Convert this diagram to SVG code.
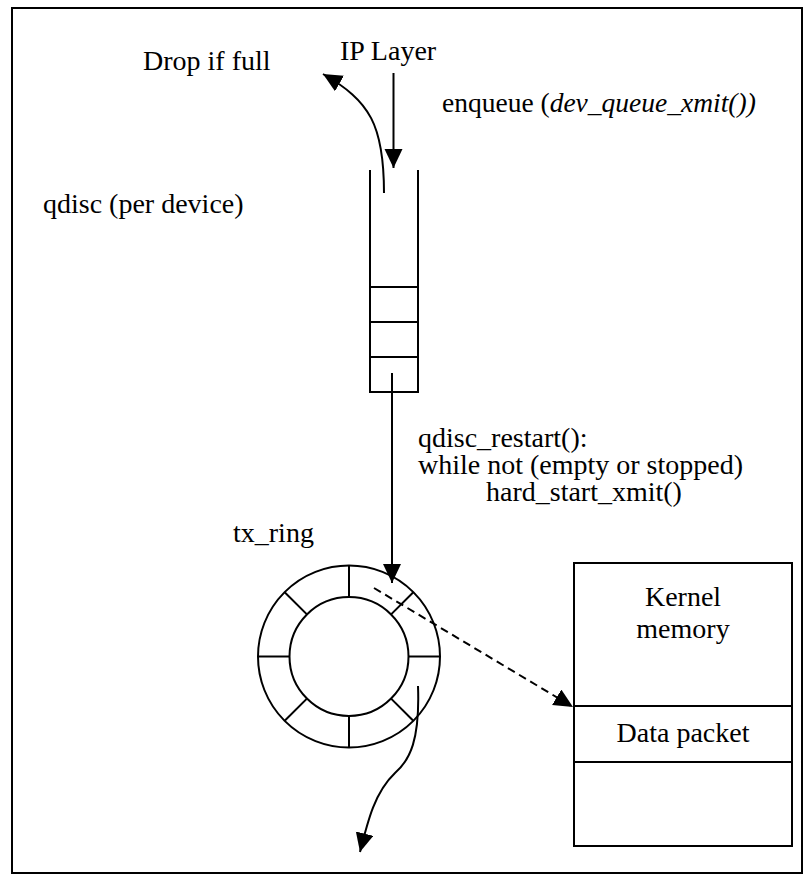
<svg xmlns="http://www.w3.org/2000/svg" width="804" height="875" viewBox="0 0 804 875">
<style>
  text { font-family: "Liberation Serif", "Times New Roman", serif; font-size: 28px; fill: #000; }
  .it { font-style: italic; }
  .ln { fill: none; stroke: #000; stroke-width: 2; }
  .box { fill: #fff; stroke: #000; stroke-width: 2; }
  .dash { fill: none; stroke: #000; stroke-width: 2; stroke-dasharray: 8 5; }
</style>
<defs>
  <marker id="ah" markerUnits="userSpaceOnUse" markerWidth="20" markerHeight="20" refX="19" refY="9" orient="auto" viewBox="0 0 20 20">
    <path d="M0,0 L19,9 L0,18 z" fill="#000"/>
  </marker>
</defs>
<rect width="804" height="875" fill="#fff"/>
<rect id="frame" x="12" y="8" width="790" height="865" class="ln"/>

<g id="labels">
  <text x="143" y="70">Drop if full</text>
  <text x="340" y="60">IP Layer</text>
  <text x="442" y="112" style="font-size:27.5px">enqueue (<tspan class="it">dev_queue_xmit())</tspan></text>
  <text x="43" y="213">qdisc (per device)</text>
  <text x="418" y="447">qdisc_restart():<tspan x="418" y="474">while not (empty or stopped)</tspan><tspan x="486" y="501">hard_start_xmit()</tspan></text>
  <text x="233" y="542">tx_ring</text>
</g>

<g id="qdisc">
  <path class="ln" d="M370,170 V392 H418 V170"/>
  <line class="ln" x1="370" y1="287" x2="418" y2="287"/>
  <line class="ln" x1="370" y1="322" x2="418" y2="322"/>
  <line class="ln" x1="370" y1="357" x2="418" y2="357"/>
</g>

<g id="tx_ring">
  <circle class="ln" cx="349" cy="656.5" r="91"/>
  <circle class="ln" cx="349" cy="656.5" r="59.5"/>
  <line class="ln" x1="349" y1="565.5" x2="349" y2="597"/>
  <line class="ln" x1="349" y1="716" x2="349" y2="747.5"/>
  <line class="ln" x1="258" y1="656.5" x2="289.5" y2="656.5"/>
  <line class="ln" x1="408.5" y1="656.5" x2="440" y2="656.5"/>
  <line class="ln" x1="284.7" y1="592.2" x2="306.9" y2="614.4"/>
  <line class="ln" x1="413.3" y1="592.2" x2="391.1" y2="614.4"/>
  <line class="ln" x1="284.7" y1="720.8" x2="306.9" y2="698.6"/>
  <line class="ln" x1="413.3" y1="720.8" x2="391.1" y2="698.6"/>
</g>

<g id="kernel_memory">
  <rect class="box" x="574" y="563" width="218" height="283"/>
  <line class="ln" x1="574" y1="706" x2="792" y2="706"/>
  <line class="ln" x1="574" y1="762" x2="792" y2="762"/>
  <text x="683" y="606" text-anchor="middle">Kernel</text>
  <text x="683" y="638" text-anchor="middle">memory</text>
  <text x="683" y="742" text-anchor="middle">Data packet</text>
</g>

<g id="connectors">
  <line class="ln" x1="393.5" y1="73" x2="393.5" y2="168" marker-end="url(#ah)"/>
  <path class="ln" d="M384,193 C384,125 370,101 323,74" marker-end="url(#ah)"/>
  <line class="ln" x1="392" y1="373" x2="392" y2="583" marker-end="url(#ah)"/>
  <line class="dash" x1="374" y1="588" x2="573" y2="707" marker-end="url(#ah)"/>
  <path class="ln" d="M418,686 C420,740 410,760 395,773 C375,792 368,820 360,852" marker-end="url(#ah)"/>
</g>
</svg>
